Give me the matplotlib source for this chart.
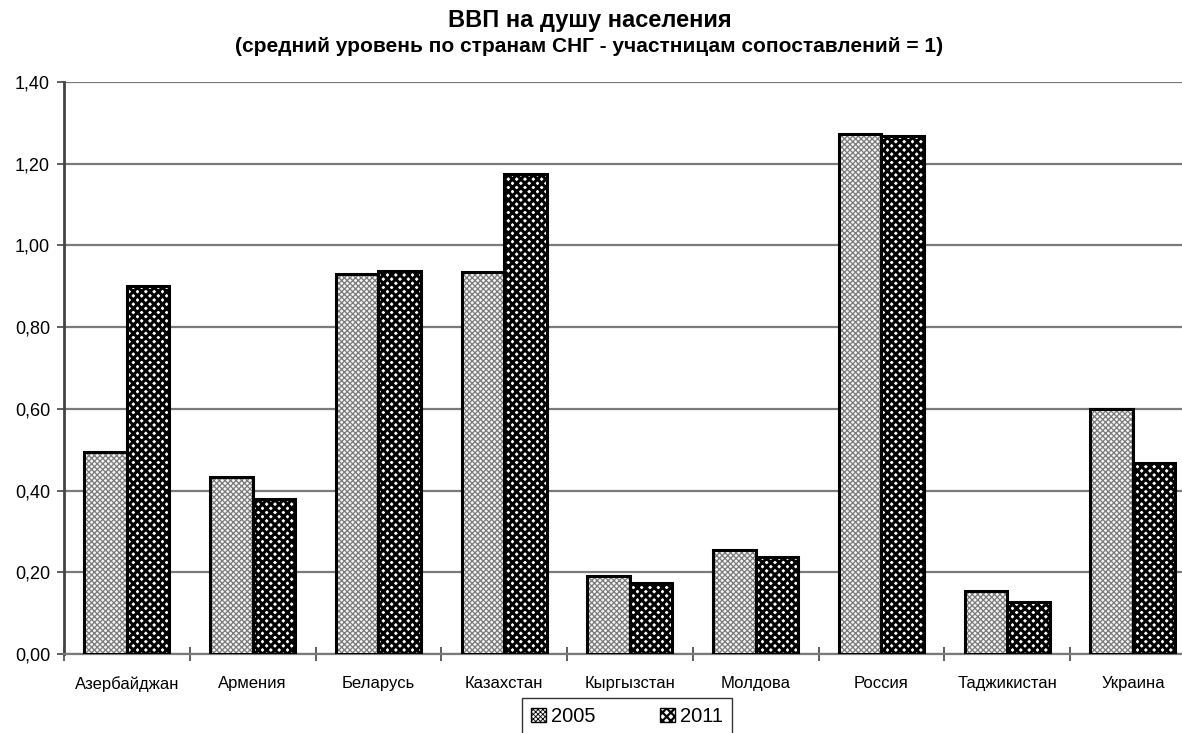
import matplotlib
matplotlib.use("Agg")
import matplotlib.pyplot as plt
import numpy as np
from matplotlib.patches import Patch

plt.rcParams['font.family'] = ['Liberation Sans', 'DejaVu Sans']

categories = ["Азербайджан", "Армения", "Беларусь", "Казахстан", "Кыргызстан",
              "Молдова", "Россия", "Таджикистан", "Украина"]
v2005 = [0.495, 0.432, 0.930, 0.936, 0.192, 0.254, 1.272, 0.154, 0.600]
v2011 = [0.901, 0.379, 0.938, 1.175, 0.175, 0.237, 1.268, 0.128, 0.468]
series_labels = ["2005", "2011"]
yticks = [0.0, 0.2, 0.4, 0.6, 0.8, 1.0, 1.2, 1.4]
ytick_labels = ["0,00", "0,20", "0,40", "0,60", "0,80", "1,00", "1,20", "1,40"]

W, H = 1182, 733
fig = plt.figure(figsize=(W / 100, H / 100), dpi=100)
left, right_px, top, bottom = 64, 64 + 9 * 125.75, 82, 654
ax = fig.add_axes([left / W, (H - bottom) / H, (right_px - left) / W, (bottom - top) / H])

x = np.arange(len(categories))
bw = 0.338
LW05, LW11 = 0.9, 2.2

with plt.rc_context({'hatch.linewidth': LW05}):
    ax.bar(x - bw / 2, v2005, bw, facecolor='#f4f4f4', edgecolor='#7a7a7a', hatch='xxxxxx',
           linewidth=0, zorder=3)
    h2005 = Patch(facecolor='#f4f4f4', edgecolor='#7a7a7a', hatch='xxxxxx', linewidth=0)
with plt.rc_context({'hatch.linewidth': LW11}):
    ax.bar(x + bw / 2, v2011, bw, facecolor='white', edgecolor='black', hatch='xxxx',
           linewidth=0, zorder=3)
    h2011 = Patch(facecolor='white', edgecolor='black', hatch='xxxx', linewidth=0)

ax.bar(x - bw / 2, v2005, bw, fill=False, edgecolor='black', linewidth=2.2, zorder=4)
ax.bar(x + bw / 2, v2011, bw, fill=False, edgecolor='black', linewidth=2.2, zorder=4)

ax.set_xlim(-0.5, len(categories) - 0.5)
ax.set_ylim(0, 1.4)
ax.set_yticks(yticks)
ax.set_yticklabels(ytick_labels, fontsize=13)
ax.yaxis.grid(True, color='#7a7a7a', linewidth=1.6, zorder=1)
ax.set_axisbelow(True)

ax.set_xticks(x)
ax.set_xticklabels(categories, fontsize=12)
ax.tick_params(axis='x', which='major', length=0, pad=16)
ax.set_xticks(np.arange(len(categories) + 1) - 0.5, minor=True)
ax.tick_params(axis='x', which='minor', length=10, direction='inout', width=1.2, color='#444444')
ax.tick_params(axis='y', length=5, width=1.2, color='#444444', pad=5)

for s in ['top', 'right']:
    ax.spines[s].set_visible(False)
ax.spines['left'].set_color('#444444')
ax.spines['left'].set_linewidth(2)
ax.spines['bottom'].set_color('#7a7a7a')
ax.spines['bottom'].set_linewidth(1.6)

fig.text(590 / W, 1 - 21 / H, "ВВП на душу населения", ha='center', va='center',
         fontsize=17, fontweight='bold')
fig.text(589 / W, 1 - 47 / H, "(средний уровень по странам СНГ - участницам сопоставлений = 1)",
         ha='center', va='center', fontsize=15, fontweight='bold')

with plt.rc_context({'hatch.linewidth': LW05}):
    leg = fig.legend([h2005, h2011], series_labels, loc='upper center',
                     bbox_to_anchor=(627 / W, 1 - 698 / H),
                     ncol=2, fontsize=14.5, frameon=True, fancybox=False, edgecolor='black',
                     handlelength=0.75, handleheight=0.75, handletextpad=0.25, columnspacing=3.2,
                     borderpad=0.45, borderaxespad=0)
leg.get_frame().set_linewidth(1.0)
lp = leg.get_patches()
for p in lp:
    p.set_linewidth(1.0)
    p.set_edgecolor('black')
if hasattr(lp[1], 'set_hatch_linewidth'):
    lp[0].set_hatch_linewidth(0.6)
    lp[1].set_hatch_linewidth(1.6)
else:
    lp[1]._hatch_linewidth = 1.6
    lp[0]._hatch_linewidth = 0.6
lp[0].set_hatch('xxxxxxx')

fig.savefig("out.png", dpi=100)
